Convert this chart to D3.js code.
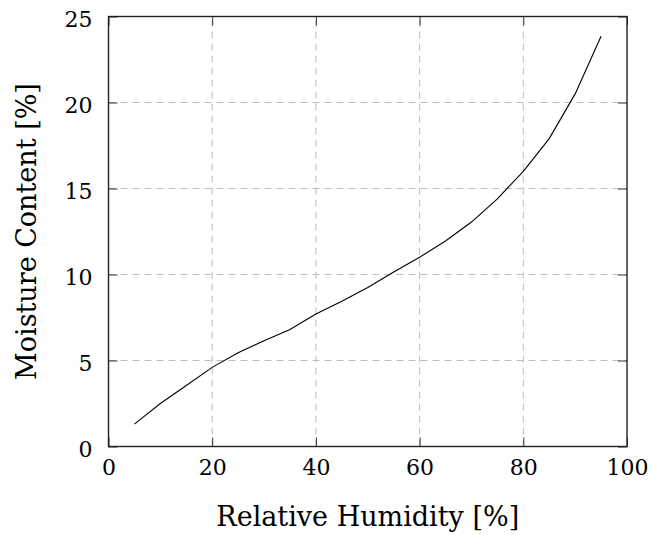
<!DOCTYPE html>
<html>
<head>
<meta charset="utf-8">
<script src="https://cdn.jsdelivr.net/npm/d3@7"></script>
<style>
  body { margin: 0; background: #fff; }
  text { font-family: "DejaVu Serif", serif; fill: #000; }
</style>
</head>
<body>
<div id="wrapper"></div>
<script>
// relative humidity [%] and moisture content [%]
var humidity = [5, 10, 15, 20, 25, 30, 35, 40, 45, 50, 55, 60, 65, 70, 75, 80, 85, 90, 95];
var moisture = [1.3, 2.5, 3.55, 4.6, 5.45, 6.15, 6.8, 7.7, 8.45, 9.25, 10.15, 11.0, 11.95, 13.05, 14.4, 16.0, 17.9, 20.5, 23.85];
var xTicks = [0, 20, 40, 60, 80, 100];
var yTicks = [0, 5, 10, 15, 20, 25];

var W = 652, H = 535;
var pLeft = 108.5, pRight = 627, pTop = 16.5, pBottom = 446.5;
var serif = '"DejaVu Serif", serif';

var svg = d3.select('#wrapper')
            .append('svg')
            .attr('width', W)
            .attr('height', H);

var xscale = d3.scaleLinear().domain([0, 100]).range([pLeft, pRight]);
var yscale = d3.scaleLinear().domain([0, 25]).range([pBottom, pTop]);

// grid
var grid = svg.append('g').attr('id', 'grid')
              .style('stroke', '#bdbdbd')
              .style('stroke-width', '1px')
              .style('stroke-dasharray', '7,5');

grid.selectAll('line.v')
    .data(xTicks.slice(1, -1))
    .enter().append('line')
    .attr('class', 'v')
    .attr('x1', function(d){ return xscale(d); })
    .attr('x2', function(d){ return xscale(d); })
    .attr('y1', pBottom)
    .attr('y2', pTop);

grid.selectAll('line.h')
    .data(yTicks.slice(1, -1))
    .enter().append('line')
    .attr('class', 'h')
    .attr('y1', function(d){ return yscale(d); })
    .attr('y2', function(d){ return yscale(d); })
    .attr('x1', pLeft)
    .attr('x2', pRight);

// axes with inward ticks on all four sides
var tick = 9;
function noDomain(g){ g.select('.domain').remove(); g.selectAll('line').attr('stroke', '#333'); }

svg.append('g')
   .attr('transform', 'translate(0,' + pBottom + ')')
   .call(d3.axisBottom(xscale).tickValues(xTicks).tickSize(-tick).tickPadding(13))
   .call(noDomain)
   .selectAll('text').style('font-size', '22px').style('font-family', serif);

svg.append('g')
   .attr('transform', 'translate(0,' + pTop + ')')
   .call(d3.axisTop(xscale).tickValues(xTicks).tickSize(-tick).tickFormat(''))
   .call(noDomain);

svg.append('g')
   .attr('transform', 'translate(' + pLeft + ',0)')
   .call(d3.axisLeft(yscale).tickValues(yTicks).tickSize(-tick).tickPadding(16))
   .call(noDomain)
   .selectAll('text').style('font-size', '22px').style('font-family', serif)
   .attr('dy', '0.45em');

svg.append('g')
   .attr('transform', 'translate(' + pRight + ',0)')
   .call(d3.axisRight(yscale).tickValues(yTicks).tickSize(-tick).tickFormat(''))
   .call(noDomain);

// frame
svg.append('rect')
   .attr('x', pLeft).attr('y', pTop)
   .attr('width', pRight - pLeft).attr('height', pBottom - pTop)
   .style('fill', 'none')
   .style('stroke', '#222')
   .style('stroke-width', '1.4px');

// curve
var line = d3.line()
             .x(function(d, i){ return xscale(humidity[i]); })
             .y(function(d){ return yscale(d); });

svg.append('path')
   .datum(moisture)
   .attr('d', line)
   .style('fill', 'none')
   .style('stroke', '#000')
   .style('stroke-width', '1.1px');

// axis titles
svg.append('text')
   .attr('x', (pLeft + pRight) / 2)
   .attr('y', 526)
   .attr('text-anchor', 'middle')
   .style('font-size', '27px')
   .text('Relative Humidity [%]');

svg.append('text')
   .attr('transform', 'translate(36,' + (pTop + pBottom) / 2 + ') rotate(-90)')
   .attr('text-anchor', 'middle')
   .style('font-size', '27px')
   .text('Moisture Content [%]');
</script>
</body>
</html>
